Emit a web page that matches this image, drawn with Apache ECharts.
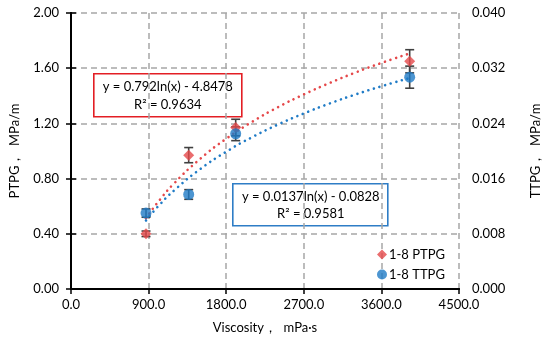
<!DOCTYPE html>
<html>
<head>
<meta charset="utf-8">
<script src="https://cdn.jsdelivr.net/npm/echarts@6/dist/echarts.min.js"></script>
<style>
html,body{margin:0;padding:0;background:#fff;}
#c{width:550px;height:339px;}
</style>
</head>
<body>
<div id="c"></div>
<script>
// ---- data ----
const viscosity = [870, 1365, 1910, 3928];
const ptpg = [0.40, 0.97, 1.17, 1.65];
const ptpgErr = [0.02, 0.055, 0.06, 0.084];
const ttpg = [0.0110, 0.0137, 0.0225, 0.0307];
const ttpgErr = [0.0006, 0.0007, 0.0010, 0.0016];
// logarithmic trend lines as drawn in the picture
const trendX = [870, 1000, 1200, 1500, 1800, 2100, 2400, 2700, 3000, 3300, 3600, 3928];
const ptpgTrend = [0.513, 0.623, 0.768, 0.944, 1.089, 1.211, 1.317, 1.410, 1.493, 1.569, 1.638, 1.707];
const ttpgTrend = [0.00993, 0.01184, 0.01433, 0.01739, 0.01989, 0.02200, 0.02383, 0.02544, 0.02689, 0.02819, 0.02938, 0.03058];
const xTicks = {min: 0, max: 4500, interval: 900};
const yLeftTicks = {min: 0, max: 2, interval: 0.4};
const yRightTicks = {min: 0, max: 0.04, interval: 0.008};
const eqPTPG = ['y = 0.792ln(x) - 4.8478', 'R² = 0.9634'];
const eqTTPG = ['y = 0.0137ln(x) - 0.0828', 'R² = 0.9581'];

const RED = '#E5484A';
const BLUE = '#1F7BC6';
const FONT = 'Lato';
const pairs = (xs, ys) => xs.map((x, i) => [x, ys[i]]);
const errData = (xs, ys, es) => xs.map((x, i) => [x, ys[i] - es[i], ys[i] + es[i]]);

function errRender(params, api) {
  const x = api.value(0), lo = api.value(1), hi = api.value(2);
  const p1 = api.coord([x, lo]);
  const p2 = api.coord([x, hi]);
  const cap = 4.5;
  const style = {stroke: '#404040', lineWidth: 1.6, fill: null};
  return {
    type: 'group',
    children: [
      {type: 'line', shape: {x1: p1[0], y1: p1[1], x2: p2[0], y2: p2[1]}, style},
      {type: 'line', shape: {x1: p1[0] - cap, y1: p1[1], x2: p1[0] + cap, y2: p1[1]}, style},
      {type: 'line', shape: {x1: p2[0] - cap, y1: p2[1], x2: p2[0] + cap, y2: p2[1]}, style}
    ]
  };
}

const axisLabelStyle = {color: '#000', fontFamily: FONT, fontSize: 13};
const axisNameStyle = {color: '#000', fontFamily: FONT, fontSize: 13};
const dotted = (c) => ({color: c, width: 2.6, type: [0.01, 5.8], cap: 'round'});
const gridLine = {show: true, lineStyle: {color: '#A6A6A6', width: 1.5, type: [6, 4]}};

const chart = echarts.init(document.getElementById('c'), null, {renderer: 'canvas'});
chart.setOption({
  animation: false,
  backgroundColor: '#fff',
  grid: {left: 70, right: 90, top: 13, bottom: 50, show: false},
  xAxis: [{
    type: 'value', min: xTicks.min, max: xTicks.max, interval: xTicks.interval,
    name: 'Viscosity，  mPa·s', nameLocation: 'middle', nameGap: 32, nameTextStyle: axisNameStyle,
    axisLine: {lineStyle: {color: '#000', width: 2}},
    axisTick: {show: true, inside: false, length: 5, lineStyle: {color: '#000', width: 1.5}},
    axisLabel: Object.assign({formatter: v => v.toFixed(1), margin: 9}, axisLabelStyle),
    splitLine: gridLine
  }, {
    type: 'value', position: 'top', min: xTicks.min, max: xTicks.max, interval: xTicks.interval,
    axisLine: {show: true, lineStyle: {color: '#000', width: 2}},
    axisTick: {show: false}, axisLabel: {show: false}, splitLine: {show: false}
  }],
  yAxis: [{
    type: 'value', min: yLeftTicks.min, max: yLeftTicks.max, interval: yLeftTicks.interval,
    name: 'PTPG，  MPa/m', nameLocation: 'middle', nameGap: 50, nameTextStyle: axisNameStyle,
    axisLine: {show: true, lineStyle: {color: '#000', width: 2}},
    axisTick: {show: true, inside: false, length: 5, lineStyle: {color: '#000', width: 1.5}},
    axisLabel: Object.assign({formatter: v => v.toFixed(2), margin: 12}, axisLabelStyle),
    splitLine: gridLine
  }, {
    type: 'value', min: yRightTicks.min, max: yRightTicks.max, interval: yRightTicks.interval, position: 'right',
    name: 'TTPG，  MPa/m', nameLocation: 'middle', nameGap: 70, nameTextStyle: axisNameStyle,
    axisLine: {show: true, lineStyle: {color: '#000', width: 2}},
    axisTick: {show: true, inside: false, length: 5, lineStyle: {color: '#000', width: 1.5}},
    axisLabel: Object.assign({formatter: v => v.toFixed(3), margin: 13}, axisLabelStyle),
    splitLine: {show: false}
  }],
  legend: {
    orient: 'vertical', left: 372, top: 243, itemGap: 7, itemWidth: 10, itemHeight: 10,
    textStyle: {color: '#000', fontFamily: FONT, fontSize: 13, padding: [0, 0, 0, -3]},
    data: [{name: '1-8 PTPG', icon: 'diamond'}, {name: '1-8 TTPG', icon: 'circle'}]
  },
  graphic: [
    {type: 'group', left: 93, top: 73, z: 50, children: [
      {type: 'rect', shape: {x: 0, y: 0, width: 148, height: 43}, style: {fill: '#fff', stroke: '#E31E24', lineWidth: 1.6}},
      {type: 'text', x: 74, y: 13, style: {text: eqPTPG[0], fill: '#000', font: '13px ' + FONT, align: 'center', verticalAlign: 'middle'}},
      {type: 'text', x: 74, y: 31, style: {text: eqPTPG[1], fill: '#000', font: '13px ' + FONT, align: 'center', verticalAlign: 'middle'}}
    ]},
    {type: 'group', left: 232, top: 183, z: 50, children: [
      {type: 'rect', shape: {x: 0, y: 0, width: 155, height: 42}, style: {fill: '#fff', stroke: '#2E7DC6', lineWidth: 1.6}},
      {type: 'text', x: 78, y: 13, style: {text: eqTTPG[0], fill: '#000', font: '13px ' + FONT, align: 'center', verticalAlign: 'middle'}},
      {type: 'text', x: 78, y: 30, style: {text: eqTTPG[1], fill: '#000', font: '13px ' + FONT, align: 'center', verticalAlign: 'middle'}}
    ]}
  ],
  series: [
    {name: 'PTPG trend', type: 'line', yAxisIndex: 0, data: pairs(trendX, ptpgTrend), smooth: true, showSymbol: false, symbol: 'none', lineStyle: dotted(RED), z: 3, silent: true},
    {name: 'TTPG trend', type: 'line', yAxisIndex: 1, data: pairs(trendX, ttpgTrend), smooth: true, showSymbol: false, symbol: 'none', lineStyle: dotted(BLUE), z: 3, silent: true},
    {name: 'PTPG err', type: 'custom', yAxisIndex: 0, renderItem: errRender, data: errData(viscosity, ptpg, ptpgErr), z: 4, encode: {x: 0, y: [1, 2]}},
    {name: 'TTPG err', type: 'custom', yAxisIndex: 1, renderItem: errRender, data: errData(viscosity, ttpg, ttpgErr), z: 4, encode: {x: 0, y: [1, 2]}},
    {name: '1-8 PTPG', type: 'scatter', yAxisIndex: 0, data: pairs(viscosity, ptpg), symbol: 'diamond', symbolSize: 11, itemStyle: {color: RED}, z: 5},
    {name: '1-8 TTPG', type: 'scatter', yAxisIndex: 1, data: pairs(viscosity, ttpg), symbol: 'circle', symbolSize: 11, itemStyle: {color: BLUE}, z: 5}
  ]
});
</script>
</body>
</html>
